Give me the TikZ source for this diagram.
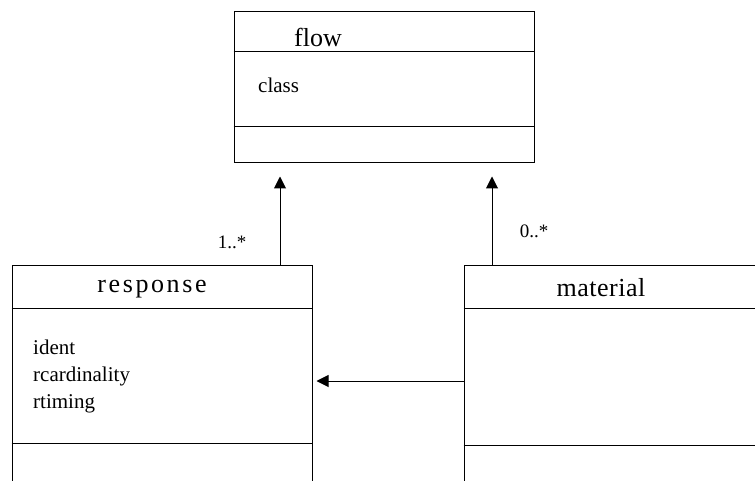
\documentclass[tikz,border=0pt]{standalone}
\usepackage{fontspec}
\setmainfont{Liberation Serif}
\usetikzlibrary{arrows.meta}
\tikzset{
  box/.style={draw, line width=1pt, inner sep=0pt},
  title/.style={font=\fontsize{26}{30}\selectfont, anchor=base, inner sep=0pt},
  attr/.style={font=\fontsize{21}{24}\selectfont, anchor=base west, inner sep=0pt},
  mult/.style={font=\fontsize{19}{22}\selectfont, anchor=base, inner sep=0pt},
  assoc/.style={line width=1pt, -{Triangle[width=12pt,length=12pt]}}
}
\begin{document}
\begin{tikzpicture}[x=1pt, y=-1pt]
            \useasboundingbox (0,0) rectangle (755,481);
            \clip (0,0) rectangle (755,481);
            
            \node (flow) at (384, 87.5) [box, minimum width=300pt, minimum height=151pt] {};
            \node (response) at (162, 397.5) [box, minimum width=300pt, minimum height=265pt] {};
            \node (material) at (622, 397.5) [box, minimum width=316pt, minimum height=265pt] {};
            
            \draw[line width=1pt] (flow.west |- 0,52) -- (flow.east |- 0,52);
            \draw[line width=1pt] (flow.west |- 0,127) -- (flow.east |- 0,127);
            \draw[line width=1pt] (response.west |- 0,308) -- (response.east |- 0,308);
            \draw[line width=1pt] (response.west |- 0,443) -- (response.east |- 0,443);
            \draw[line width=1pt] (material.west |- 0,308) -- (material.east |- 0,308);
            \draw[line width=1pt] (material.west |- 0,445) -- (material.east |- 0,445);
            
            \node (t1) at (318, 47) [title] {flow};
            \node (t2) at (152, 292) [title] {\addfontfeatures{LetterSpace=10}response};
            \node (t3) at (601, 296) [title] {\addfontfeatures{LetterSpace=2}material};
            
            \node (a1) at (258, 93) [attr] {class};
            \node (a2) at (33, 354) [attr] {ident};
            \node (a3) at (33, 381) [attr] {rcardinality};
            \node (a4) at (33, 408) [attr] {rtiming};
            
            \draw[assoc] (response.north -| 280,0) -- ([yshift=-13pt]flow.south -| 280,0);
            \draw[assoc] (material.north -| 492,0) -- ([yshift=-13pt]flow.south -| 492,0);
            \draw[assoc] (material.west |- 0,381) -- ([xshift=4pt]response.east |- 0,381);
            
            \node (m1) at (232, 248) [mult] {1..*};
            \node (m2) at (534, 237) [mult] {0..*};
            
        \end{tikzpicture}
\end{document}
